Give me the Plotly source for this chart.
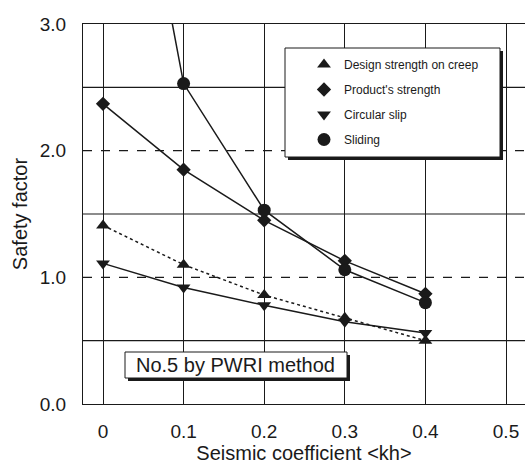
import plotly.graph_objects as go

kh = [0, 0.1, 0.2, 0.3, 0.4]
creep = [1.41, 1.10, 0.86, 0.68, 0.50]
product = [2.37, 1.85, 1.45, 1.13, 0.87]
circular = [1.11, 0.92, 0.78, 0.65, 0.56]
sliding = [5.9, 2.53, 1.53, 1.06, 0.80]

series_names = ["Design strength on creep", "Product's strength", "Circular slip", "Sliding"]
series_values = [creep, product, circular, sliding]
symbols = ["triangle-up", "diamond", "triangle-down", "circle"]
dashes = ["dot", "solid", "solid", "solid"]
msizes = [12, 11, 12, 13]

y_ticks = [0, 1, 2, 3]
y_tick_text = ["0.0", "1.0", "2.0", "3.0"]
x_ticks = [0, 0.1, 0.2, 0.3, 0.4, 0.5]
x_tick_text = ["0", "0.1", "0.2", "0.3", "0.4", "0.5"]

INK = "#1a1a1a"
FONT = "Liberation Sans, Arial, sans-serif"

# plot area in pixels
L, R, T, B = 83, 525, 24, 404
W, H = R - L, B - T


def px(x):
    return (x - L) / W


def py(y):
    return (B - y) / H


fig = go.Figure()
for i, (name, vals) in enumerate(zip(series_names, series_values)):
    fig.add_trace(go.Scatter(
        x=kh, y=vals, name=name, mode="lines+markers",
        line=dict(color=INK, width=1.5, dash=dashes[i]),
        marker=dict(symbol=symbols[i], size=msizes[i], color=INK),
        showlegend=False,
    ))
# legend entries (markers only, as in the reference)
for i, name in enumerate(series_names):
    fig.add_trace(go.Scatter(
        x=[None], y=[None], name=name, mode="markers",
        marker=dict(symbol=symbols[i], size=msizes[i], color=INK),
        legendgroup=f"g{i}", showlegend=True,
    ))

shapes = []
# horizontal grid lines
for yv, dash in [(0.5, "solid"), (1.0, "dash"), (1.5, "solid"), (2.0, "dash"), (2.5, "solid")]:
    shapes.append(dict(type="line", xref="paper", yref="y", x0=0, x1=1, y0=yv, y1=yv,
                       line=dict(color=INK, width=1.2, dash=dash), layer="below"))

# legend box with shadow
shapes.append(dict(type="rect", xref="paper", yref="paper",
                   x0=px(288), x1=px(503), y0=py(160), y1=py(51),
                   fillcolor=INK, line=dict(width=0), layer="above"))
shapes.append(dict(type="rect", xref="paper", yref="paper",
                   x0=px(285), x1=px(500), y0=py(157), y1=py(48),
                   fillcolor="white", line=dict(color=INK, width=1), layer="above"))

# annotation box with shadow
shapes.append(dict(type="rect", xref="paper", yref="paper",
                   x0=px(128), x1=px(350), y0=py(381), y1=py(355),
                   fillcolor=INK, line=dict(width=0), layer="above"))
shapes.append(dict(type="rect", xref="paper", yref="paper",
                   x0=px(125), x1=px(347), y0=py(378), y1=py(352),
                   fillcolor="white", line=dict(color=INK, width=1), layer="above"))

annotations = [dict(text="No.5 by PWRI method", xref="paper", yref="paper",
                    x=px(235), y=py(365), xanchor="center", yanchor="middle", showarrow=False,
                    font=dict(family=FONT, size=20, color=INK))]

fig.update_layout(
    width=525, height=470,
    margin=dict(l=L, r=525 - R, t=T, b=470 - B),
    paper_bgcolor="white", plot_bgcolor="white",
    font=dict(family=FONT, color=INK),
    shapes=shapes, annotations=annotations,
    showlegend=True,
    legend=dict(x=px(304), y=py(50), xanchor="left", yanchor="top",
                bgcolor="rgba(0,0,0,0)", borderwidth=0,
                font=dict(family=FONT, size=12, color=INK),
                tracegroupgap=6, itemwidth=30),
    xaxis=dict(range=[-20 / 806, (W - 20) / 806], tickvals=x_ticks, ticktext=x_tick_text,
               showgrid=True, gridcolor=INK, gridwidth=1, zeroline=False,
               showline=True, linecolor=INK, linewidth=1, mirror=True,
               ticks="", ticklabelstandoff=10,
               tickfont=dict(size=19, color=INK),
               title=dict(text="Seismic coefficient <kh>", font=dict(size=20, color=INK), standoff=0)),
    yaxis=dict(range=[0, 3], tickvals=y_ticks, ticktext=y_tick_text,
               showgrid=False, zeroline=False,
               showline=True, linecolor=INK, linewidth=1, mirror=False,
               ticks="", ticklabelstandoff=12,
               tickfont=dict(size=19, color=INK),
               title=dict(text="Safety factor", font=dict(size=20, color=INK), standoff=6)),
)

fig.write_html("out.html")
